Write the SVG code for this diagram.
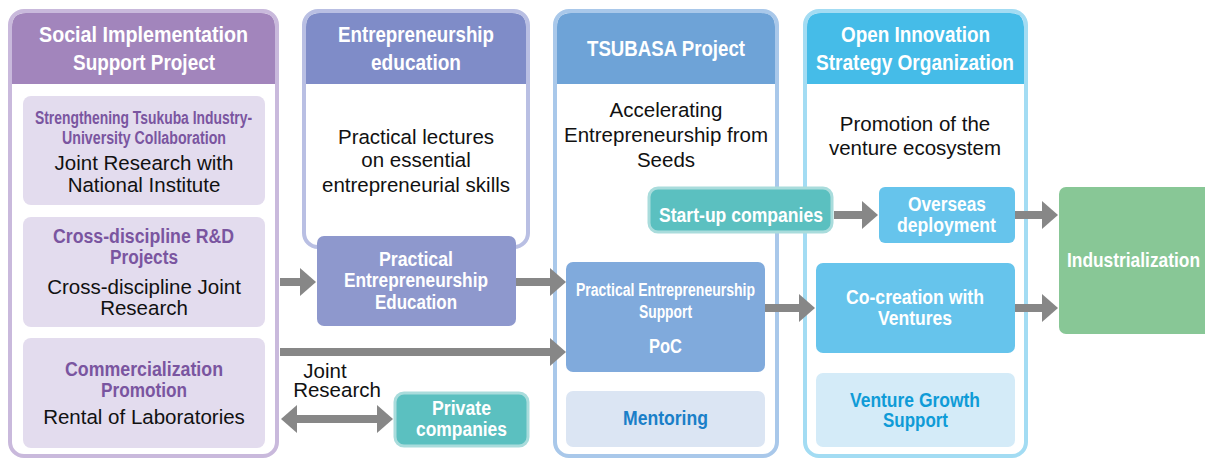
<svg xmlns="http://www.w3.org/2000/svg" width="1205" height="459" viewBox="0 0 1205 459">
<style>
.hd{font-family:"Liberation Sans",Arial,sans-serif;font-weight:bold;fill:#fff;text-anchor:middle}
.sub{font-family:"Liberation Sans",Arial,sans-serif;font-weight:bold;text-anchor:middle}
.body{font-family:"Liberation Sans",Arial,sans-serif;fill:#111;text-anchor:middle;font-size:20.5px}
.conn{stroke:#878787;stroke-width:8;fill:none}
</style>
<defs>
<marker id="ah" markerUnits="userSpaceOnUse" markerWidth="16" markerHeight="28" refX="6" refY="14" orient="auto-start-reverse" viewBox="0 0 16 28">
<path d="M0,0 L16,14 L0,28 Z" fill="#878787"/>
</marker>
</defs>

<g id="col1">
<rect x="10" y="11" width="267" height="445" rx="14" fill="#fff" stroke="#c9b9dc" stroke-width="4"/>
<path d="M12,84 V27 Q12,13 26,13 H261 Q275,13 275,27 V84 Z" fill="#a285bc"/>
<text class="hd" font-size="22" x="143.5" y="42" textLength="209" lengthAdjust="spacingAndGlyphs">Social Implementation</text>
<text class="hd" font-size="22" x="144" y="70" textLength="142" lengthAdjust="spacingAndGlyphs">Support Project</text>
</g>
<g id="sub1">
<rect x="23" y="96" width="242" height="109" rx="8" fill="#e3dcee"/>
<text class="sub" font-size="18" fill="#7a55a0" x="143.5" y="124" textLength="217" lengthAdjust="spacingAndGlyphs">Strengthening Tsukuba Industry-</text>
<text class="sub" font-size="18" fill="#7a55a0" x="144" y="144" textLength="164" lengthAdjust="spacingAndGlyphs">University Collaboration</text>
<text class="body" x="144" y="170">Joint Research with</text>
<text class="body" x="144" y="192">National Institute</text>
</g>
<g id="sub2">
<rect x="23" y="217" width="242" height="110" rx="8" fill="#e3dcee"/>
<text class="sub" font-size="20" fill="#7a55a0" x="143.5" y="243" textLength="181" lengthAdjust="spacingAndGlyphs">Cross-discipline R&amp;D</text>
<text class="sub" font-size="20" fill="#7a55a0" x="144" y="264" textLength="68" lengthAdjust="spacingAndGlyphs">Projects</text>
<text class="body" x="144" y="294">Cross-discipline Joint</text>
<text class="body" x="144" y="315">Research</text>
</g>
<g id="sub3">
<rect x="23" y="338" width="242" height="110" rx="8" fill="#e3dcee"/>
<text class="sub" font-size="20" fill="#7a55a0" x="144" y="376" textLength="158" lengthAdjust="spacingAndGlyphs">Commercialization</text>
<text class="sub" font-size="20" fill="#7a55a0" x="144" y="397" textLength="86" lengthAdjust="spacingAndGlyphs">Promotion</text>
<text class="body" x="144" y="424">Rental of Laboratories</text>
</g>

<g id="col2">
<rect x="304" y="11" width="224" height="236" rx="14" fill="#fff" stroke="#b9bfe3" stroke-width="4"/>
<path d="M306,84 V27 Q306,13 320,13 H512 Q526,13 526,27 V84 Z" fill="#7f8cc8"/>
<text class="hd" font-size="22" x="416" y="42" textLength="156" lengthAdjust="spacingAndGlyphs">Entrepreneurship</text>
<text class="hd" font-size="22" x="416" y="70" textLength="90" lengthAdjust="spacingAndGlyphs">education</text>
<text class="body" x="416" y="144">Practical lectures</text>
<text class="body" x="416" y="167">on essential</text>
<text class="body" x="416" y="192">entrepreneurial skills</text>
</g>
<g id="pee">
<rect x="317" y="236" width="199" height="90" rx="7" fill="#8e98cd"/>
<text class="hd" font-size="20" x="416" y="266" textLength="74" lengthAdjust="spacingAndGlyphs">Practical</text>
<text class="hd" font-size="20" x="416" y="287" textLength="144" lengthAdjust="spacingAndGlyphs">Entrepreneurship</text>
<text class="hd" font-size="20" x="416" y="309" textLength="82" lengthAdjust="spacingAndGlyphs">Education</text>
</g>

<g id="col3">
<rect x="555" y="11" width="222" height="445" rx="14" fill="#fff" stroke="#a9c8ea" stroke-width="4"/>
<path d="M557,84 V27 Q557,13 571,13 H761 Q775,13 775,27 V84 Z" fill="#6ea3d7"/>
<text class="hd" font-size="22" x="666" y="56" textLength="158" lengthAdjust="spacingAndGlyphs">TSUBASA Project</text>
<text class="body" x="666" y="117">Accelerating</text>
<text class="body" x="666" y="142">Entrepreneurship from</text>
<text class="body" x="666" y="167">Seeds</text>
</g>
<g id="poc">
<rect x="566" y="262" width="199" height="110" rx="7" fill="#80aadc"/>
<text class="hd" font-size="18" x="665.5" y="296" textLength="179" lengthAdjust="spacingAndGlyphs">Practical Entrepreneurship</text>
<text class="hd" font-size="18" x="665.5" y="318" textLength="53" lengthAdjust="spacingAndGlyphs">Support</text>
<text class="hd" font-size="20" x="665.5" y="353" textLength="33" lengthAdjust="spacingAndGlyphs">PoC</text>
</g>
<g id="mentoring">
<rect x="566" y="391" width="199" height="56" rx="7" fill="#dbe5f3"/>
<text class="sub" font-size="20" fill="#1a7fc8" x="665.5" y="425" textLength="85" lengthAdjust="spacingAndGlyphs">Mentoring</text>
</g>

<g id="col4">
<rect x="805" y="11" width="221" height="445" rx="14" fill="#fff" stroke="#a3dcf3" stroke-width="4"/>
<path d="M807,84 V27 Q807,13 821,13 H1010 Q1024,13 1024,27 V84 Z" fill="#45bce8"/>
<text class="hd" font-size="22" x="915.5" y="42" textLength="149" lengthAdjust="spacingAndGlyphs">Open Innovation</text>
<text class="hd" font-size="22" x="915" y="70" textLength="198" lengthAdjust="spacingAndGlyphs">Strategy Organization</text>
<text class="body" x="915" y="131">Promotion of the</text>
<text class="body" x="915" y="155">venture ecosystem</text>
</g>
<g id="startup">
<rect x="649" y="188" width="183" height="44" rx="9" fill="#5bc0c0" stroke="#a9dcdc" stroke-width="3"/>
<text class="hd" font-size="20" x="741" y="222" textLength="164" lengthAdjust="spacingAndGlyphs">Start-up companies</text>
</g>
<g id="overseas">
<rect x="879" y="187" width="136" height="56" rx="6" fill="#66c4ec"/>
<text class="hd" font-size="20" x="947" y="211" textLength="78" lengthAdjust="spacingAndGlyphs">Overseas</text>
<text class="hd" font-size="20" x="946.5" y="232" textLength="99" lengthAdjust="spacingAndGlyphs">deployment</text>
</g>
<g id="cocreation">
<rect x="816" y="263" width="199" height="90" rx="7" fill="#66c4ec"/>
<text class="hd" font-size="20" x="915" y="304" textLength="138" lengthAdjust="spacingAndGlyphs">Co-creation with</text>
<text class="hd" font-size="20" x="915" y="325" textLength="74" lengthAdjust="spacingAndGlyphs">Ventures</text>
</g>
<g id="growth">
<rect x="816" y="373" width="199" height="74" rx="7" fill="#d4ebf8"/>
<text class="sub" font-size="20" fill="#0f9bd7" x="915" y="407" textLength="130" lengthAdjust="spacingAndGlyphs">Venture Growth</text>
<text class="sub" font-size="20" fill="#0f9bd7" x="915.5" y="427" textLength="65" lengthAdjust="spacingAndGlyphs">Support</text>
</g>
<g id="private">
<rect x="395" y="393" width="133" height="53" rx="9" fill="#5bc0c0" stroke="#a9dcdc" stroke-width="3"/>
<text class="hd" font-size="20" x="461.5" y="415" textLength="59" lengthAdjust="spacingAndGlyphs">Private</text>
<text class="hd" font-size="20" x="461.5" y="436" textLength="91" lengthAdjust="spacingAndGlyphs">companies</text>
</g>
<g id="industrialization">
<rect x="1059" y="187" width="160" height="147" rx="7" fill="#88c796"/>
<text class="hd" font-size="21" x="1133.5" y="267" textLength="133" lengthAdjust="spacingAndGlyphs">Industrialization</text>
</g>

<g id="connectors">
<line class="conn" x1="280" y1="282" x2="306" y2="282" marker-end="url(#ah)"/>
<line class="conn" x1="516" y1="282" x2="556" y2="282" marker-end="url(#ah)"/>
<line class="conn" x1="280" y1="352" x2="556" y2="352" marker-end="url(#ah)"/>
<line class="conn" x1="291" y1="419" x2="383" y2="419" marker-start="url(#ah)" marker-end="url(#ah)"/>
<line class="conn" x1="765" y1="308" x2="805" y2="308" marker-end="url(#ah)"/>
<line class="conn" x1="834" y1="215" x2="868" y2="215" marker-end="url(#ah)"/>
<line class="conn" x1="1015" y1="215" x2="1048" y2="215" marker-end="url(#ah)"/>
<line class="conn" x1="1015" y1="308" x2="1048" y2="308" marker-end="url(#ah)"/>
<text class="body" font-size="20" x="325" y="378">Joint</text>
<text class="body" font-size="20" x="337" y="397">Research</text>
</g>
</svg>
